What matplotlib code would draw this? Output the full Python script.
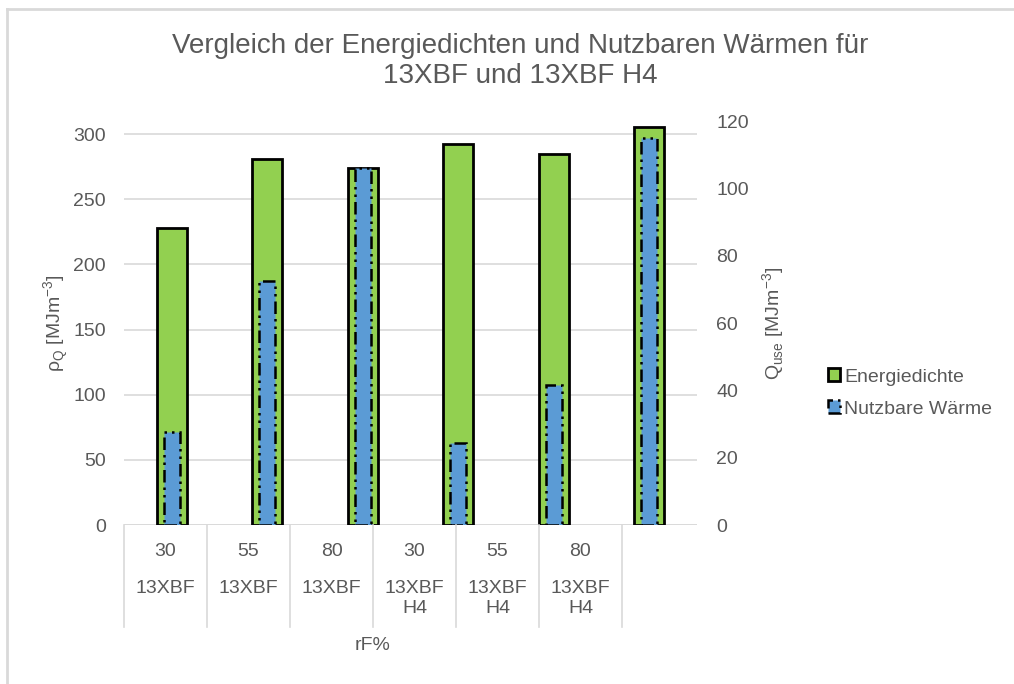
import matplotlib.pyplot as plt
import matplotlib.lines as mlines
import matplotlib.patches as mpatches
from matplotlib.transforms import blended_transform_factory
import numpy as np

plt.rcParams['font.family'] = ['Liberation Sans', 'DejaVu Sans']
plt.rcParams['mathtext.fontset'] = 'custom'
plt.rcParams['mathtext.rm'] = 'Liberation Sans'

# rF% levels and material per bar
rf_levels = ['30', '55', '80', '30', '55', '80']
materials = ['13XBF', '13XBF', '13XBF', '13XBF\nH4', '13XBF\nH4', '13XBF\nH4']

# Energiedichte (left axis) and nutzbare Wärme (right axis), MJ/m3
energiedichte = [228, 281, 274, 292, 285, 305]
nutzbare_waerme = [27.7, 72.6, 105.9, 24.3, 41.6, 115.0]

text_color = '#595959'
grid_color = '#d9d9d9'
green = '#92d050'
blue = '#5b9bd5'
dashdotdot = (0, (5, 2, 1, 2, 1, 2))

fig = plt.figure(figsize=(10.14, 6.84), dpi=100)
ax = fig.add_axes([124 / 1014, 1 - 525 / 684, (697 - 124) / 1014, (525 - 121) / 684])
ax2 = ax.twinx()

x = np.arange(len(rf_levels))
ax.bar(x, energiedichte, width=0.31, color=green, edgecolor='black', linewidth=2.0, zorder=3)
ax2.bar(x, nutzbare_waerme, width=0.17, color=blue, edgecolor='black', linewidth=1.8,
        linestyle=dashdotdot, zorder=3)

ax.set_xlim(-0.5, len(rf_levels) - 0.5)
ax.set_ylim(0, 300 * 404 / 391)
ax2.set_ylim(0, 120)
ax.set_yticks(np.arange(0, 301, 50))
ax2.set_yticks(np.arange(0, 121, 20))

ax.yaxis.grid(True, color=grid_color, linewidth=1.2)
ax.set_axisbelow(True)
for a in (ax, ax2):
    for side in ('left', 'right', 'top', 'bottom'):
        a.spines[side].set_visible(False)
ax.axhline(0, color=grid_color, linewidth=1.2, zorder=1)

ax.set_xticks([])
ax.tick_params(axis='y', length=0, pad=13, labelsize=14, labelcolor=text_color)
ax2.tick_params(axis='y', length=0, pad=14, labelsize=14, labelcolor=text_color)

ax.set_ylabel(r'ρ$_\mathrm{Q}$ [MJm$^{-3}$]', fontsize=14, color=text_color, labelpad=2)
ax2.set_ylabel(r'Q$_\mathrm{use}$ [MJm$^{-3}$]', fontsize=14, color=text_color, labelpad=8)

# two-level category table below the plot area
table_frac = (622 - 124) / (697 - 124)
cell = table_frac / len(rf_levels)
tr = blended_transform_factory(ax.transAxes, fig.transFigure)
y_top = 1 - 525 / 684
y_bot = 1 - 627 / 684
for i in range(len(rf_levels) + 1):
    fig.add_artist(mlines.Line2D([i * cell, i * cell], [y_bot, y_top], transform=tr,
                                 color=grid_color, linewidth=1.2))
for i, (rf, mat) in enumerate(zip(rf_levels, materials)):
    cx = (i + 0.5) * cell
    ax.text(cx, 1 - 552 / 684, rf, transform=tr, ha='center', va='center',
            fontsize=14, color=text_color)
    ax.text(cx, 1 - 580 / 684, mat, transform=tr, ha='center', va='top',
            fontsize=14, color=text_color, linespacing=1.2)
ax.text(table_frac / 2, 1 - 646 / 684, 'rF%', transform=tr, ha='center', va='center',
        fontsize=14, color=text_color)

fig.text(520 / 1014, 1 - 33 / 684,
         'Vergleich der Energiedichten und Nutzbaren Wärmen für\n13XBF und 13XBF H4',
         ha='center', va='top', fontsize=20, color=text_color, linespacing=1.2)

handles = [mpatches.Patch(facecolor=green, edgecolor='black', linewidth=2.0),
           mpatches.Patch(facecolor=blue, edgecolor='black', linewidth=1.8,
                          linestyle=dashdotdot)]
fig.legend(handles, ['Energiedichte', 'Nutzbare Wärme'], loc='center left',
           bbox_to_anchor=(810 / 1014, 1 - 393 / 684), frameon=False, fontsize=14,
           handlelength=0.65, handleheight=0.65, handletextpad=0.2, labelspacing=0.75,
           labelcolor=text_color)

# chart frame lines
fig.add_artist(mlines.Line2D([7 / 1014, 7 / 1014], [0, 1 - 9 / 684],
                             transform=fig.transFigure, color=grid_color, linewidth=2))
fig.add_artist(mlines.Line2D([7 / 1014, 1], [1 - 9 / 684, 1 - 9 / 684],
                             transform=fig.transFigure, color=grid_color, linewidth=2))

fig.savefig('out.png', dpi=100)
